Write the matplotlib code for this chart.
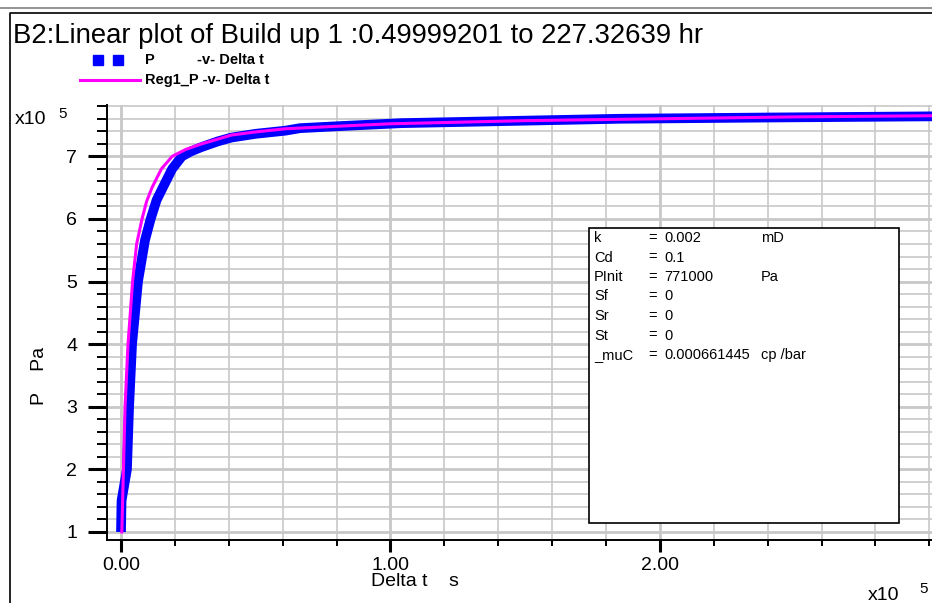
import matplotlib
matplotlib.use("Agg")
import matplotlib.pyplot as plt
from matplotlib.patches import Rectangle
from matplotlib.lines import Line2D
from matplotlib.ticker import MultipleLocator, FixedLocator

W, H = 932, 603

# measured build-up pressure (x1e5 s, x1e5 Pa)
p_t = [0.0, 0.002, 0.022, 0.030, 0.041, 0.063, 0.089, 0.110, 0.132, 0.155,
       0.19, 0.226, 0.26, 0.30, 0.36, 0.41, 0.50, 0.61, 0.664, 0.80, 1.04,
       1.50, 1.85, 2.40, 3.05]
p_val = [1.0, 1.5, 2.0, 3.0, 4.0, 5.0, 5.66, 6.0, 6.3, 6.5,
         6.8, 7.0, 7.08, 7.15, 7.24, 7.30, 7.36, 7.41, 7.45, 7.48, 7.53,
         7.57, 7.60, 7.62, 7.64]

# regression model response
reg_t = [0.003, 0.009, 0.015, 0.026, 0.043, 0.058, 0.078, 0.095, 0.115,
         0.15, 0.19, 0.24, 0.30, 0.41, 0.50, 0.61, 0.80, 1.00, 1.50, 2.00,
         2.50, 3.05]
reg_val = [1.0, 2.0, 3.0, 4.0, 5.0, 5.6, 6.0, 6.28, 6.5,
           6.8, 7.0, 7.11, 7.20, 7.34, 7.39, 7.44, 7.48, 7.52, 7.57, 7.60,
           7.63, 7.65]

y_ticks = [1, 2, 3, 4, 5, 6, 7]
x_ticks = [0.0, 1.0, 2.0]
x_tick_labels = ["0.00", "1.00", "2.00"]

params = [("k", "0.002", "mD"),
          ("Cd", "0.1", ""),
          ("PInit", "771000", "Pa"),
          ("Sf", "0", ""),
          ("Sr", "0", ""),
          ("St", "0", ""),
          ("_muC", "0.000661445", "cp /bar")]

title = "B2:Linear plot of Build up 1 :0.49999201 to 227.32639 hr"

FONT = "Liberation Sans"
BLUE = "#0000ff"
MAGENTA = "#ff00ff"
GRID = "#c8c8c8"


def fx(px):
    return px / W


def fy(py):
    return 1 - py / H


fig = plt.figure(figsize=(W / 100, H / 100), dpi=100)
fig.patch.set_facecolor("white")

ax = fig.add_axes([fx(107), fy(540), fx(932) - fx(107), fy(105) - fy(540)])
ax.set_xlim(-0.052, 3.01)
ax.set_ylim(0.872, 7.82)

for side in ("top", "right"):
    ax.spines[side].set_visible(False)
for side in ("left", "bottom"):
    ax.spines[side].set_linewidth(1.4)
    ax.spines[side].set_color("black")

ax.xaxis.set_major_locator(FixedLocator(x_ticks))
ax.xaxis.set_minor_locator(MultipleLocator(0.2))
ax.yaxis.set_major_locator(FixedLocator(y_ticks))
ax.yaxis.set_minor_locator(MultipleLocator(0.2))
ax.set_xticklabels(x_tick_labels)

ax.tick_params(axis="y", which="major", length=13.5, width=2.2, pad=8,
               labelsize=14, direction="out")
ax.tick_params(axis="y", which="minor", length=7, width=1.4, direction="out")
ax.tick_params(axis="x", which="major", length=8.5, width=2.2, pad=4,
               labelsize=14, direction="out")
ax.tick_params(axis="x", which="minor", length=4, width=1.4, direction="out")
for lbl in ax.get_xticklabels() + ax.get_yticklabels():
    lbl.set_fontfamily(FONT)

ax.grid(True, which="major", color=GRID, linewidth=2.0, zorder=0)
ax.grid(True, which="minor", color=GRID, linewidth=1.2, zorder=0)
ax.set_axisbelow(True)

ax.plot(p_t, p_val, color=BLUE, linewidth=7, solid_joinstyle="round",
        solid_capstyle="butt", zorder=3)
ax.plot(reg_t, reg_val, color=MAGENTA, linewidth=2.2, zorder=4)

# parameter box
fig.patches.append(Rectangle((fx(589), fy(523)), fx(899) - fx(589),
                             fy(228) - fy(523), transform=fig.transFigure,
                             facecolor="white", edgecolor="black",
                             linewidth=1.2, zorder=5))
for i, (name, val, unit) in enumerate(params):
    yy = fy(238 + i * 19.5)
    kw = dict(fontsize=10.5, family=FONT, va="center", zorder=6)
    fig.text(fx(594), yy, name, **kw)
    fig.text(fx(648), yy, "=", **kw)
    fig.text(fx(664), yy, val, **kw)
    if unit:
        fig.text(fx(761), yy, unit, **kw)

# frame and title
fig.add_artist(Line2D([0, 1], [fy(8), fy(8)], color="#808080", linewidth=1.2))
fig.add_artist(Line2D([fx(10), fx(10), 1], [0, fy(13), fy(13)],
                      color="black", linewidth=1.2))
fig.text(fx(13), fy(36), title, fontsize=19.8, family=FONT, va="center")

# legend
fig.patches.append(Rectangle((fx(93), fy(65)), fx(10), 10 / H,
                             transform=fig.transFigure, color=BLUE))
fig.patches.append(Rectangle((fx(113), fy(65)), fx(10), 10 / H,
                             transform=fig.transFigure, color=BLUE))
fig.add_artist(Line2D([fx(80), fx(140)], [fy(80), fy(80)], color=MAGENTA,
                      linewidth=2.2))
lkw = dict(fontsize=10.5, family=FONT, weight="bold", va="center")
fig.text(fx(145), fy(60), "P", **lkw)
fig.text(fx(197), fy(60), "-v- Delta t", **lkw)
fig.text(fx(145), fy(80), "Reg1_P -v- Delta t", **lkw)

# axis labels and exponent markers
fig.text(fx(40), fy(376), "P    Pa", rotation=90, fontsize=14, family=FONT,
         ha="center", va="center")
fig.text(fx(415), fy(582), "Delta t    s", fontsize=14, family=FONT,
         ha="center", va="center")
fig.text(fx(15), fy(119), "x10", fontsize=14, family=FONT, va="center")
fig.text(fx(58), fy(114), "5", fontsize=11, family=FONT, va="center")
fig.text(fx(868), fy(595), "x10", fontsize=14, family=FONT, va="center")
fig.text(fx(919), fy(589), "5", fontsize=11, family=FONT, va="center")

fig.savefig("out.png", dpi=100)
